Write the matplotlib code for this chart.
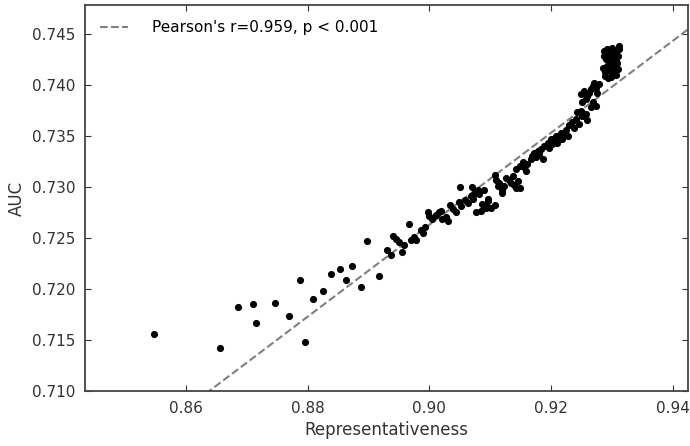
import numpy as np
import matplotlib
matplotlib.use("Agg")
import matplotlib.pyplot as plt

# sparse low-end points
x_sparse = [0.8548, 0.8656, 0.8686, 0.8710, 0.8715, 0.8746, 0.8770, 0.8787, 0.8795,
            0.8809, 0.8826, 0.8838, 0.8853, 0.8863, 0.8873, 0.8887, 0.8918, 0.8898]
y_sparse = [0.7156, 0.7142, 0.7182, 0.7185, 0.7167, 0.7186, 0.7174, 0.7209, 0.7148,
            0.7190, 0.7198, 0.7215, 0.7220, 0.7209, 0.7222, 0.7202, 0.7213, 0.7247]

# middle band
x_mid = [0.8930, 0.8937, 0.8941, 0.8945, 0.8950, 0.8955, 0.8959, 0.8967, 0.8970, 0.8974,
         0.8978, 0.8986, 0.8990, 0.8993, 0.8997, 0.9000, 0.9005, 0.9011, 0.9016, 0.9019,
         0.9021, 0.9027, 0.9030, 0.9034, 0.9039, 0.9043, 0.9048, 0.9052, 0.9050, 0.9059,
         0.9063, 0.9068, 0.9070, 0.9075, 0.9079, 0.9082, 0.9077, 0.9084, 0.9090, 0.9093,
         0.9096, 0.9074, 0.9071, 0.9090, 0.9096, 0.9087, 0.9101, 0.9107, 0.9093]
y_mid = [0.7238, 0.7233, 0.7252, 0.7249, 0.7246, 0.7236, 0.7243, 0.7264, 0.7248, 0.7251,
         0.7248, 0.7258, 0.7255, 0.7261, 0.7275, 0.7271, 0.7268, 0.7272, 0.7275, 0.7276,
         0.7268, 0.7270, 0.7267, 0.7282, 0.7278, 0.7275, 0.7285, 0.7281, 0.7300, 0.7287,
         0.7284, 0.7291, 0.7300, 0.7294, 0.7297, 0.7293, 0.7275, 0.7276, 0.7279, 0.7282,
         0.7288, 0.7293, 0.7288, 0.7297, 0.7286, 0.7283, 0.7279, 0.7282, 0.7279]

# upper band
x_up = [0.9107, 0.9109, 0.9115, 0.9112, 0.9120, 0.9123, 0.9120, 0.9126, 0.9131, 0.9137,
        0.9134, 0.9139, 0.9142, 0.9148, 0.9145, 0.9142, 0.9148, 0.9153, 0.9156, 0.9158,
        0.9161, 0.9167, 0.9169, 0.9172, 0.9175, 0.9178, 0.9180, 0.9183, 0.9186, 0.9189,
        0.9194, 0.9197, 0.9200, 0.9202, 0.9205, 0.9208, 0.9210, 0.9213, 0.9216, 0.9218,
        0.9221, 0.9224, 0.9227, 0.9230, 0.9235, 0.9241, 0.9238, 0.9246, 0.9251, 0.9257,
        0.9249, 0.9243, 0.9259, 0.9249, 0.9254, 0.9257, 0.9259, 0.9262, 0.9265, 0.9268,
        0.9270, 0.9273, 0.9276, 0.9268, 0.9273, 0.9265, 0.9279, 0.9251]
y_up = [0.7312, 0.7307, 0.7304, 0.7301, 0.7297, 0.7301, 0.7294, 0.7309, 0.7307, 0.7311,
        0.7304, 0.7302, 0.7299, 0.7299, 0.7306, 0.7317, 0.7320, 0.7324, 0.7319, 0.7315,
        0.7322, 0.7327, 0.7330, 0.7333, 0.7329, 0.7335, 0.7332, 0.7337, 0.7327, 0.7340,
        0.7343, 0.7338, 0.7347, 0.7342, 0.7345, 0.7350, 0.7343, 0.7348, 0.7353, 0.7347,
        0.7351, 0.7356, 0.7350, 0.7360, 0.7363, 0.7366, 0.7358, 0.7361, 0.7369, 0.7371,
        0.7374, 0.7373, 0.7365, 0.7391, 0.7394, 0.7386, 0.7389, 0.7392, 0.7396, 0.7399,
        0.7402, 0.7397, 0.7392, 0.7383, 0.7379, 0.7378, 0.7401, 0.7383]

# top blob
x_top = [0.9288, 0.9291, 0.9290, 0.9293, 0.9292, 0.9295, 0.9297, 0.9298, 0.9296, 0.9300,
         0.9301, 0.9302, 0.9303, 0.9300, 0.9304, 0.9305, 0.9306, 0.9307, 0.9309, 0.9308,
         0.9310, 0.9311, 0.9312, 0.9289, 0.9294, 0.9299, 0.9285, 0.9287, 0.9286, 0.9306]
y_top = [0.7412, 0.7418, 0.7425, 0.7430, 0.7435, 0.7414, 0.7420, 0.7427, 0.7433, 0.7410,
         0.7416, 0.7423, 0.7429, 0.7436, 0.7412, 0.7419, 0.7425, 0.7432, 0.7415, 0.7421,
         0.7428, 0.7435, 0.7438, 0.7408, 0.7406, 0.7407, 0.7416, 0.7428, 0.7433, 0.7409]

# fitted line
fit_slope = 0.450
fit_x0, fit_y0 = 0.8638, 0.710

rep = np.array(x_sparse + x_mid + x_up + x_top)
auc = np.array(y_sparse + y_mid + y_up + y_top)

plt.rcParams['font.family'] = 'DejaVu Sans'
fig = plt.figure(figsize=(6.9, 4.46), dpi=100)
ax = fig.add_axes([0.123, 0.123, 0.8734, 0.866])

xl = np.array([0.84, 0.95])
ax.plot(xl, fit_y0 + fit_slope * (xl - fit_x0), '--', color='#808080', lw=1.5,
        label="Pearson's r=0.959, p < 0.001")
ax.scatter(rep, auc, s=17, color='black', zorder=3)

ax.set_xlim(0.8434, 0.9424)
ax.set_ylim(0.710, 0.7478)
ax.set_xticks([0.86, 0.88, 0.90, 0.92, 0.94])
ax.set_xticklabels(['0.86', '0.88', '0.90', '0.92', '0.94'])
ax.set_yticks([0.710, 0.715, 0.720, 0.725, 0.730, 0.735, 0.740, 0.745])
ax.set_yticklabels(['0.710', '0.715', '0.720', '0.725', '0.730', '0.735', '0.740', '0.745'])
ax.tick_params(direction='in', top=True, right=True, length=4, labelsize=11,
               colors='#333333', pad=7)
for sp in ax.spines.values():
    sp.set_color('#444444')
    sp.set_linewidth(1.3)

ax.set_xlabel('Representativeness', fontsize=12, color='#333333')
ax.set_ylabel('AUC', fontsize=12, color='#333333')
ax.legend(loc='upper left', frameon=False, fontsize=11, handlelength=1.8,
          handletextpad=1.6, borderaxespad=0.5, borderpad=0.5)

fig.savefig('out.png', dpi=100)
